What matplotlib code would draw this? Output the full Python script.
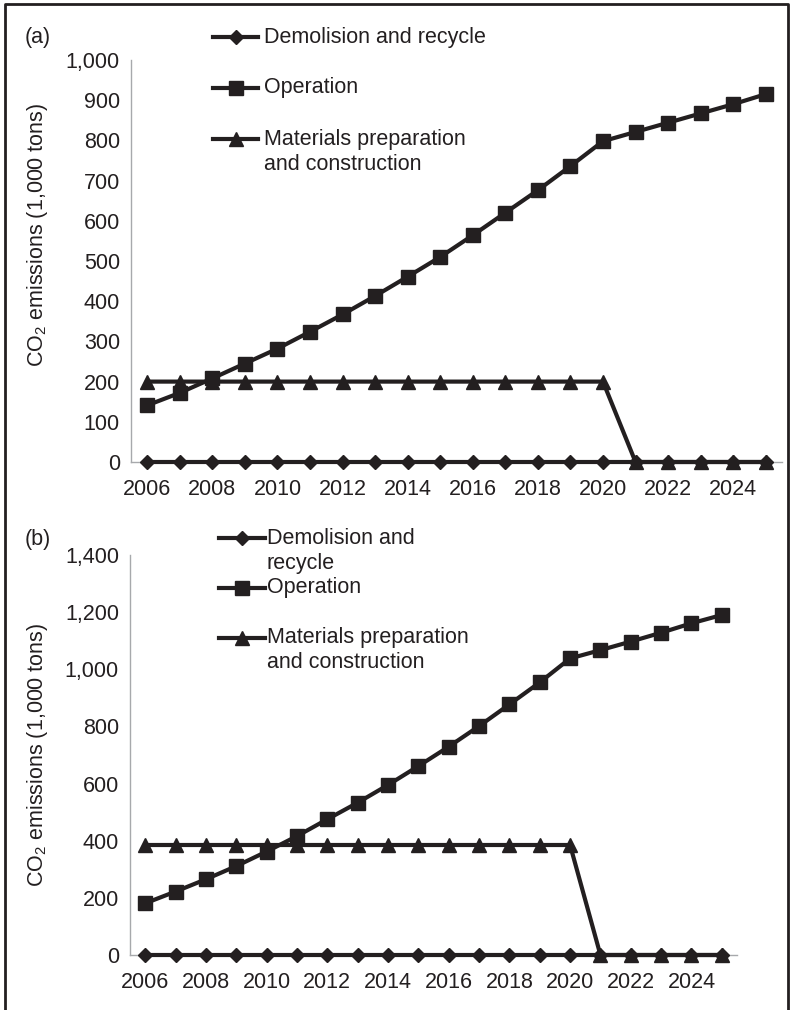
import matplotlib
matplotlib.use("Agg")
import matplotlib.pyplot as plt
from matplotlib.lines import Line2D
from matplotlib.ticker import FuncFormatter, MultipleLocator

plt.rcParams["font.family"] = ["Liberation Sans", "DejaVu Sans"]
plt.rcParams["mathtext.fontset"] = "custom"
plt.rcParams["mathtext.rm"] = "Liberation Sans"
plt.rcParams["mathtext.it"] = "Liberation Sans:italic"

# ---- data -------------------------------------------------------------
years = [2006, 2007, 2008, 2009, 2010, 2011, 2012, 2013, 2014, 2015,
         2016, 2017, 2018, 2019, 2020, 2021, 2022, 2023, 2024, 2025]
year_ticks = [2006, 2008, 2010, 2012, 2014, 2016, 2018, 2020, 2022, 2024]

series_names = ["Demolision and recycle", "Operation",
                "Materials preparation and construction"]

a_demolition = [0, 0, 0, 0, 0, 0, 0, 0, 0, 0,
                0, 0, 0, 0, 0, 0, 0, 0, 0, 0]
a_operation = [141, 172, 208, 245, 282, 324, 367, 413, 461, 510,
               564, 620, 676, 736, 798, 821, 844, 867, 890, 915]
a_materials = [200, 200, 200, 200, 200, 200, 200, 200, 200, 200,
               200, 200, 200, 200, 200, 0, 0, 0, 0, 0]

b_demolition = [0, 0, 0, 0, 0, 0, 0, 0, 0, 0,
                0, 0, 0, 0, 0, 0, 0, 0, 0, 0]
b_operation = [181, 222, 265, 311, 362, 416, 475, 533, 595, 661,
               729, 801, 877, 954, 1038, 1067, 1097, 1128, 1161, 1190]
b_materials = [385, 385, 385, 385, 385, 385, 385, 385, 385, 385,
               385, 385, 385, 385, 385, 0, 0, 0, 0, 0]

# ---- style ------------------------------------------------------------
INK = "#231f20"
AXIS_GREY = "#a7a9ac"
FS = 15.5
W, H = 792, 1010

markers = {"Demolision and recycle": ("D", 7.6),
           "Operation": ("s", 10.0),
           "Materials preparation and construction": ("^", 10.0)}

fig = plt.figure(figsize=(W / 100, H / 100), dpi=100)


def px_axes(left, top, right, bottom):
    return fig.add_axes([left / W, 1 - bottom / H, (right - left) / W,
                         (bottom - top) / H])


def style_axes(ax, ymax, ystep, ylabel_xy):
    ax.set_xlim(2005.5, 2025.5)
    ax.set_ylim(0, ymax)
    ax.yaxis.set_major_locator(MultipleLocator(ystep))
    ax.yaxis.set_major_formatter(FuncFormatter(lambda v, p: f"{int(v):,}"))
    ax.set_xticks(year_ticks)
    ax.set_xticklabels([str(y) for y in year_ticks])
    for s in ("top", "right"):
        ax.spines[s].set_visible(False)
    for s in ("left", "bottom"):
        ax.spines[s].set_color(AXIS_GREY)
        ax.spines[s].set_linewidth(1.0)
    ax.tick_params(axis="x", length=0, pad=12, labelsize=FS, colors=INK)
    ax.tick_params(axis="y", length=0, pad=8, labelsize=FS, colors=INK)
    ax.set_ylabel(r"CO$_\mathregular{2}$ emissions (1,000 tons)",
                  fontsize=FS, color=INK)
    ax.yaxis.set_label_coords(*ylabel_xy)
    ax.patch.set_alpha(0)


def plot_series(ax, demolition, operation, materials):
    m_d, s_d = markers[series_names[0]]
    m_o, s_o = markers[series_names[1]]
    m_m, s_m = markers[series_names[2]]
    ax.plot(years, demolition, color=INK, lw=3, marker=m_d, ms=s_d,
            clip_on=False, zorder=3)
    ax.plot(years, materials, color=INK, lw=3, marker=m_m, ms=s_m,
            clip_on=False, zorder=4)
    ax.plot(years, operation, color=INK, lw=3, marker=m_o, ms=s_o,
            clip_on=False, zorder=5)


def legend_entry(x0, x1, y, name, lines, text_x, dy=25):
    m, ms = markers[name]
    fig.add_artist(Line2D([x0 / W, x1 / W], [1 - y / H, 1 - y / H],
                          transform=fig.transFigure, color=INK, lw=3))
    fig.add_artist(Line2D([(x0 + x1) / 2 / W], [1 - y / H],
                          transform=fig.transFigure, color=INK, marker=m,
                          ms=ms, lw=0))
    for i, line in enumerate(lines):
        fig.text(text_x / W, 1 - (y + i * dy) / H, line, fontsize=FS,
                 color=INK, va="center", ha="left")


# ---- panel (a) --------------------------------------------------------
ax_a = px_axes(131, 60, 782, 462)
style_axes(ax_a, 1000, 100, (-0.1244, 0.565))
plot_series(ax_a, a_demolition, a_operation, a_materials)
fig.text(25 / W, 1 - 37 / H, "(a)", fontsize=FS, color=INK, va="center")
legend_entry(213, 258, 37, series_names[0], ["Demolision and recycle"], 264)
legend_entry(213, 258, 88, series_names[1], ["Operation"], 264)
legend_entry(213, 258, 139, series_names[2],
             ["Materials preparation", "and construction"], 264)

# ---- panel (b) --------------------------------------------------------
ax_b = px_axes(130, 555, 737, 955)
style_axes(ax_b, 1400, 200, (-0.1318, 0.5))
plot_series(ax_b, b_demolition, b_operation, b_materials)
fig.text(25 / W, 1 - 539 / H, "(b)", fontsize=FS, color=INK, va="center")
legend_entry(219, 265, 538, series_names[0], ["Demolision and", "recycle"], 267)
legend_entry(219, 265, 588, series_names[1], ["Operation"], 267)
legend_entry(219, 265, 638, series_names[2],
             ["Materials preparation", "and construction"], 267)

# ---- outer frame (open at the bottom) ---------------------------------
fx = [5 / W, 5 / W, 788 / W, 788 / W]
fy = [0, 1 - 4 / H, 1 - 4 / H, 0]
fig.add_artist(Line2D(fx, fy, transform=fig.transFigure, color=INK, lw=2))

fig.savefig("out.png", dpi=100)
